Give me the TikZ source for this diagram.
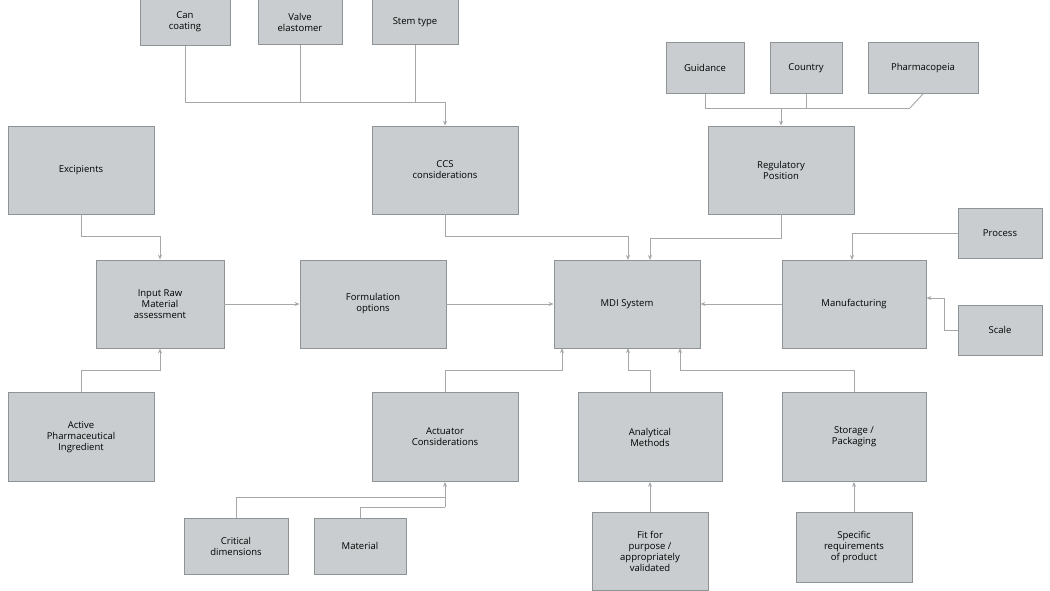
\documentclass[tikz,border=0pt]{standalone}
\usepackage{fontspec}
\setmainfont{Open Sans}
\usetikzlibrary{arrows.meta,positioning,calc}
\definecolor{boxfill}{HTML}{C9CDCF}
\definecolor{boxline}{HTML}{8E9396}
\definecolor{wire}{HTML}{A4A8AA}

\begin{document}
\begin{tikzpicture}[
    x=1pt, y=-1pt,
    font=\fontsize{9.5}{11}\selectfont,
    box/.style={draw=boxline, fill=boxfill, line width=0.8pt, align=center, inner sep=2pt},
    big/.style={box, minimum width=146pt, minimum height=88pt},
    small/.style={box, minimum height=48pt},
    wire/.style={draw=wire, line width=0.9pt},
    arr/.style={wire, -{Stealth[length=5pt,width=4pt]}}
  ]
  \useasboundingbox (0,0) rectangle (1050,590);
  % top row
  \node[small, minimum width=90pt, minimum height=47pt] (can) at (185,22) {Can\\coating};
  \node[small, minimum width=84pt, minimum height=45pt] (valve) at (300,22) {Valve\\elastomer};
  \node[small, minimum width=86pt, minimum height=45pt] (stem) at (415,22) {Stem type};
  \node[small, minimum width=78pt, minimum height=51pt] (guid) at (705,68) {Guidance};
  \node[small, minimum width=72pt, minimum height=51pt] (ctry) at (806,68) {Country};
  \node[small, minimum width=110pt, minimum height=51pt] (phar) at (923,68) {Pharmacopeia};
  % second row
  \node[big] (excip) at (81,170) {Excipients};
  \node[big] (ccs) at (445,170) {CCS\\considerations};
  \node[big] (reg) at (781,170) {Regulatory\\Position};
  \node[small, minimum width=84pt, minimum height=50pt] (proc) at (1000,233) {Process};
  % middle row
  \node[big, minimum width=128pt] (input) at (160,304) {Input Raw\\Material\\assessment};
  \node[big] (form) at (373,304) {Formulation\\options};
  \node[big] (mdi) at (627,304) {MDI System};
  \node[big, minimum width=144pt] (manu) at (854,304) {Manufacturing};
  \node[small, minimum width=84pt, minimum height=50pt] (scale) at (1000,330) {Scale};
  % lower row
  \node[big, minimum height=89pt] (api) at (81,437) {Active\\Pharmaceutical\\Ingredient};
  \node[big, minimum height=89pt] (act) at (445,437) {Actuator\\Considerations};
  \node[big, minimum width=144pt, minimum height=89pt] (anal) at (650,437) {Analytical\\Methods};
  \node[big, minimum width=144pt, minimum height=89pt] (stor) at (854,437) {Storage /\\Packaging};
  % bottom row
  \node[small, minimum width=104pt, minimum height=56pt] (crit) at (236,546) {Critical\\dimensions};
  \node[small, minimum width=92pt, minimum height=56pt] (mat) at (360,546) {Material};
  \node[small, minimum width=116pt, minimum height=78pt] (fit) at (650,551) {Fit for\\purpose /\\appropriately\\validated};
  \node[small, minimum width=116pt, minimum height=70pt] (spec) at (854,547) {Specific\\requirements\\of product};

  % connectors
  \draw[wire] (can.south) |- (445,102);
  \draw[wire] (valve.south) -- (300,102);
  \draw[wire] (stem.south) |- (445,102);
  \draw[arr] (445,102) -- (ccs.north);
  \draw[wire] (guid.south) |- (910,108);
  \draw[wire] (ctry.south) -- (806,108);
  \draw[wire] (phar.south) -- (910,108);
  \draw[arr] (781,108) -- (reg.north);
  \draw[arr] (excip.south) |- (160,236) -- (input.north);
  \draw[arr] (api.north) |- (160,370) -- (input.south);
  \draw[arr] (input) -- (form);
  \draw[arr] (form) -- (mdi);
  \draw[arr] (manu) -- (mdi);
  \draw[arr] (ccs.south) |- (628,236) -- (628,260);
  \draw[arr] (reg.south) |- (650,238) -- (650,260);
  \draw[arr] (proc.west) -| (852,260);
  \draw[arr] (scale.west) -| (944,298) -- (manu.east |- 0,298);
  \draw[arr] (act.north) |- (562,370) -- (562,348);
  \draw[arr] (anal.north) -- (650,370) -- (628,370) -- (628,348);
  \draw[arr] (stor.north) |- (680,370) -- (680,348);
  \draw[wire] (crit.north) |- (445,497);
  \draw[wire] (mat.north) |- (445,507);
  \draw[arr] (445,507) -- (act.south);
  \draw[arr] (fit.north) -- (anal.south);
  \draw[arr] (spec.north) -- (stor.south);
\end{tikzpicture}
\end{document}
